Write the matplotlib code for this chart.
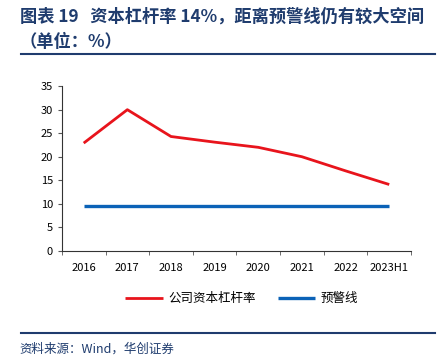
import matplotlib
matplotlib.use("Agg")
import matplotlib.pyplot as plt
from matplotlib.lines import Line2D

plt.rcParams['font.family'] = ['Noto Sans CJK SC', 'DejaVu Sans']

years = ['2016', '2017', '2018', '2019', '2020', '2021', '2022', '2023H1']
leverage = [22.9, 30.0, 24.3, 23.1, 22.0, 20.0, 17.0, 14.1]
warning = [9.5, 9.5, 9.5, 9.5, 9.5, 9.5, 9.5, 9.5]

title_color = '#1F3C6E'

fig = plt.figure(figsize=(4.42, 3.62), dpi=100)
ax = fig.add_axes([0.140, 0.307, 0.790, 0.455])

x = list(range(len(years)))
ax.plot(x, leverage, color='#E8141C', lw=2.0, label='公司资本杠杆率', solid_capstyle='butt')
ax.plot(x, warning, color='#0B62B7', lw=2.4, label='预警线', solid_capstyle='butt')

ax.set_xlim(-0.5, len(years) - 0.5)
ax.set_ylim(0, 35)
ax.set_yticks(range(0, 36, 5))
ax.set_xticks(x)
ax.set_xticklabels(years)
ax.set_xticks([i - 0.5 for i in range(len(years) + 1)], minor=True)
ax.tick_params(axis='x', which='major', length=0, pad=9, labelsize=8)
ax.tick_params(axis='x', which='minor', length=3, direction='out', color='#555555')
ax.tick_params(axis='y', length=3, labelsize=8, color='#555555')
for s in ['top', 'right']:
    ax.spines[s].set_visible(False)
for s in ['left', 'bottom']:
    ax.spines[s].set_color('#333333')
    ax.spines[s].set_linewidth(0.8)

ax.legend(loc='center', bbox_to_anchor=(0.515, -0.29), ncol=2, frameon=False,
          fontsize=9, handlelength=3.0, columnspacing=1.8, handletextpad=0.4)

fig.text(0.045, 0.955, '图表 19   资本杠杆率 14%，距离预警线仍有较大空间', fontsize=12.4,
         fontweight='bold', color=title_color, va='center')
fig.text(0.045, 0.885, '（单位：%）', fontsize=12.4, fontweight='bold', color=title_color, va='center')
fig.add_artist(Line2D([0.048, 0.985], [0.851, 0.851], color=title_color, lw=1.5))
fig.add_artist(Line2D([0.048, 0.985], [0.080, 0.080], color=title_color, lw=1.5))
fig.text(0.045, 0.035, '资料来源：Wind，华创证券', fontsize=9, style='italic',
         color=title_color, va='center')

fig.savefig('out.png', dpi=100)
